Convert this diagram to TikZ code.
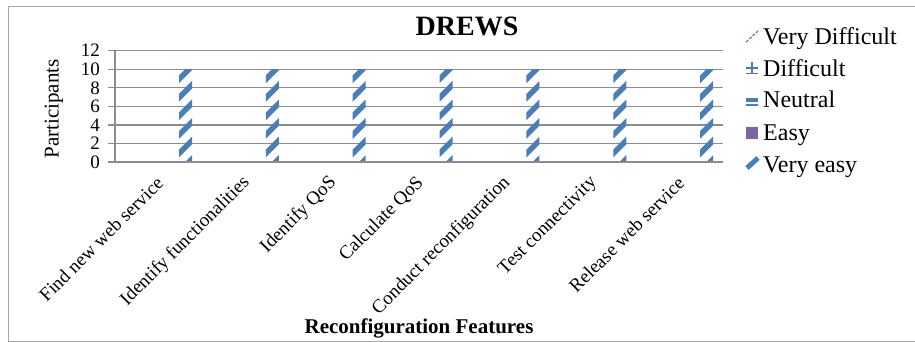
\documentclass[tikz,border=0pt]{standalone}
\usepackage{fontspec}
\setmainfont{Liberation Serif}
\definecolor{barblue}{HTML}{4A7EBB}
\definecolor{easypurple}{HTML}{8064A2}
\definecolor{gridgray}{HTML}{8C8C8C}
\definecolor{framegray}{HTML}{A6A6A6}
\begin{document}
\begin{tikzpicture}[x=1pt,y=-1pt,
  grid/.style={draw=gridgray, line width=1.4pt},
  ticklab/.style={font=\fontsize{19}{19}\selectfont, anchor=east, inner sep=0pt},
  catlab/.style={font=\fontsize{19}{19}\selectfont, rotate=45, anchor=east, inner sep=0pt},
  legtext/.style={font=\fontsize{24}{24}\selectfont, anchor=base west, inner sep=0pt},
  stripe/.style={draw=barblue, line width=5.5pt}
]
\useasboundingbox (0,0) rectangle (915,342);
\fill[white] (0,0) rectangle (915,342);
% chart frame (its right side runs off the page)
\draw[framegray, line width=1pt] (920,6.5) -- (8,6.5) -- (8,341) -- (920,341);

% title
\node[font=\bfseries\fontsize{28}{28}\selectfont, anchor=base, inner sep=0pt] (title) at (467,36) {DREWS};

% gridlines, ticks and value labels (0..12 step 2)
\foreach \v [count=\k from 0] in {0,2,...,12} {
  \draw[grid] (108,{162-9.275*\v}) -- (723,{162-9.275*\v});
  \node[ticklab] (yl\k) at (100,{162-9.275*\v}) {\v};
}
\draw[grid] (115,50.7) -- (115,162);

% y axis title
\node[font=\fontsize{21}{21}\selectfont, rotate=90, inner sep=0pt] (ytitle) at (54,109) {Participants};

% bars of the "Very easy" series (value 10), hatched upward diagonal
\foreach \i in {0,...,6} {
  \pgfmathsetmacro{\xl}{179+86.86*\i}
  \begin{scope}
    \clip (\xl,69.25) rectangle ({\xl+13},162);
    \foreach \s in {0,...,6} {
      \draw[stripe] ({\xl-3},{175-18.55*\s}) -- ({\xl+16},{156-18.55*\s});
    }
  \end{scope}
}
\draw[grid] (115,162) -- (723,162);

% category labels
\foreach \lab [count=\i from 0] in {Find new web service,Identify functionalities,Identify QoS,Calculate QoS,Conduct reconfiguration,Test connectivity,Release web service} {
  \node[catlab] (cat\i) at ({160+86.86*\i},180) {\lab};
}

% x axis title
\node[font=\bfseries\fontsize{21}{21}\selectfont, anchor=base, inner sep=0pt] (xtitle) at (419,333) {Reconfiguration Features};

% legend
\node[legtext] (l1) at (763,44.5) {Very Difficult};
\node[legtext] (l2) at (763,76.5) {Difficult};
\node[legtext] (l3) at (763,108) {Neutral};
\node[legtext] (l4) at (763,140) {Easy};
\node[legtext] (l5) at (763,172) {Very easy};
% legend keys
\draw[barblue, line width=1.2pt, dash pattern=on 3pt off 1.5pt] (746,42) -- (758,31);
\draw[barblue, line width=1.2pt] (746,68) -- (758,68) (752,62.5) -- (752,73) (746,73.5) -- (758,73.5);
\draw[barblue, line width=3.5pt] (746,100) -- (758,100);
\draw[barblue, line width=1.2pt] (746,105) -- (758,105);
\fill[easypurple] (746,127) rectangle (758,139);
\draw[barblue, line width=5pt] (747,168) -- (758,158);
\end{tikzpicture}
\end{document}
